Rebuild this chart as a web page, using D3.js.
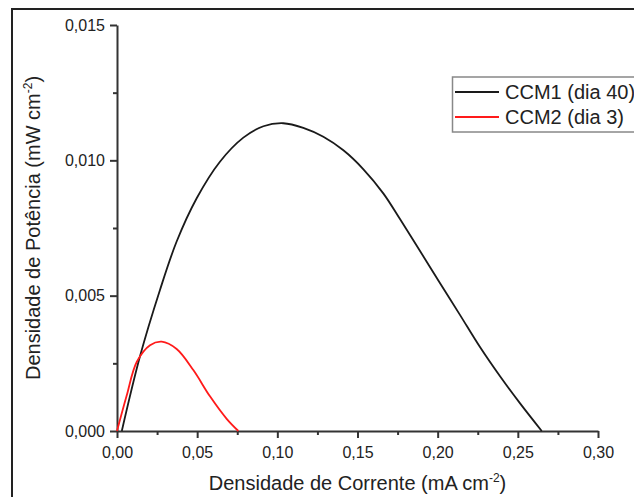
<!DOCTYPE html>
<html>
<head>
<meta charset="utf-8">
<script src="https://cdn.jsdelivr.net/npm/d3@7"></script>
<style>
  body { margin: 0; background: #fff; }
  text { font-family: "Liberation Sans", Arial, sans-serif; fill: #222; }
  .axis path, .axis line { stroke: #333; stroke-width: 2; }
</style>
</head>
<body>
<div id="plot"></div>
<script>
// CCM1 (dia 40): current density (mA cm-2) vs power density (mW cm-2)
var ccm1X = [0.0030, 0.0143, 0.0268, 0.0372, 0.0497, 0.0642, 0.0788, 0.0913, 0.1037, 0.1162, 0.1287,
             0.1412, 0.1537, 0.1662, 0.1765, 0.1890, 0.2015, 0.2139, 0.2264, 0.2389, 0.2514, 0.2649];
var ccm1Y = [0.0000, 0.00275, 0.00521, 0.00700, 0.00860, 0.00995, 0.01084, 0.01126, 0.01137, 0.01120, 0.01087,
             0.01037, 0.00967, 0.00877, 0.00783, 0.00665, 0.00546, 0.00429, 0.00310, 0.00202, 0.00102, 0.0000];

// CCM2 (dia 3)
var ccm2X = [0.0000, 0.0060, 0.0123, 0.0206, 0.0279, 0.0372, 0.0476, 0.0580, 0.0684, 0.0757];
var ccm2Y = [0.0000, 0.00130, 0.00255, 0.00317, 0.00330, 0.00303, 0.00225, 0.00128, 0.00045, 0.0000];

var seriesNames = ["CCM1 (dia 40)", "CCM2 (dia 3)"];
var seriesColors = ["#1a1a1a", "#ff1a1a"];

var xMajor = [0, 0.05, 0.10, 0.15, 0.20, 0.25, 0.30];
var xMinor = [0.025, 0.075, 0.125, 0.175, 0.225, 0.275];
var yMajor = [0, 0.005, 0.010, 0.015];
var yMinor = [0.0025, 0.0075, 0.0125];

var W = 634, H = 497;
var plot = { left: 117, right: 598, top: 25, bottom: 431 };

var svg = d3.select("#plot").append("svg")
    .attr("width", W)
    .attr("height", H);

// outer frame (only top and left visible in the crop)
svg.append("path")
    .attr("d", "M12," + H + "V9H" + W)
    .attr("fill", "none")
    .attr("stroke", "#222")
    .attr("stroke-width", 2);

var x = d3.scaleLinear().domain([0, 0.30]).range([plot.left, plot.right]);
var y = d3.scaleLinear().domain([0, 0.015]).range([plot.bottom, plot.top]);

var br = d3.formatLocale({ decimal: ",", thousands: ".", grouping: [3], currency: ["", ""] });

// minor ticks
svg.append("g").attr("class", "axis")
    .attr("transform", "translate(0," + plot.bottom + ")")
    .call(d3.axisBottom(x).tickValues(xMinor).tickSize(4).tickFormat(""))
    .select(".domain").remove();
svg.append("g").attr("class", "axis")
    .attr("transform", "translate(" + plot.left + ",0)")
    .call(d3.axisLeft(y).tickValues(yMinor).tickSize(4).tickFormat(""))
    .select(".domain").remove();

// major axes
svg.append("g").attr("class", "axis")
    .attr("transform", "translate(0," + plot.bottom + ")")
    .call(d3.axisBottom(x).tickValues(xMajor).tickSize(7).tickSizeOuter(0).tickPadding(9)
        .tickFormat(br.format(".2f")));
svg.append("g").attr("class", "axis")
    .attr("transform", "translate(" + plot.left + ",0)")
    .call(d3.axisLeft(y).tickValues(yMajor).tickSize(7).tickSizeOuter(0).tickPadding(5)
        .tickFormat(br.format(".3f")));
svg.selectAll(".axis text")
    .style("font-family", "'Liberation Sans', Arial, sans-serif")
    .style("font-size", "16px")
    .attr("fill", "#222");

// curves
var line = d3.line()
    .x(function(d) { return x(d[0]); })
    .y(function(d) { return y(d[1]); })
    .curve(d3.curveCatmullRom.alpha(0.5));

var ccm1 = d3.zip(ccm1X, ccm1Y);
var ccm2 = d3.zip(ccm2X, ccm2Y);

svg.append("path").datum(ccm1)
    .attr("d", line)
    .attr("fill", "none")
    .attr("stroke", seriesColors[0])
    .attr("stroke-width", 1.8);
svg.append("path").datum(ccm2)
    .attr("d", line)
    .attr("fill", "none")
    .attr("stroke", seriesColors[1])
    .attr("stroke-width", 1.8);

// axis titles
var xt = svg.append("text")
    .attr("x", (plot.left + plot.right) / 2)
    .attr("y", 490)
    .attr("text-anchor", "middle")
    .style("font-size", "20px");
xt.append("tspan").text("Densidade de Corrente (mA cm");
xt.append("tspan").attr("dy", -8).style("font-size", "12px").text("-2");
xt.append("tspan").attr("dy", 8).text(")");

var yt = svg.append("text")
    .attr("transform", "translate(40," + (plot.top + plot.bottom) / 2 + ") rotate(-90)")
    .attr("text-anchor", "middle")
    .style("font-size", "20px");
yt.append("tspan").text("Densidade de Potência (mW cm");
yt.append("tspan").attr("dy", -8).style("font-size", "12px").text("-2");
yt.append("tspan").attr("dy", 8).text(")");

// legend
var legend = svg.append("g");
legend.append("rect")
    .attr("x", 452.5)
    .attr("y", 77)
    .attr("width", 200)
    .attr("height", 55)
    .attr("fill", "#fff")
    .attr("stroke", "#888")
    .attr("stroke-width", 1.5);
seriesNames.forEach(function(name, i) {
    var ly = 92 + i * 25;
    legend.append("line")
        .attr("x1", 455).attr("x2", 499)
        .attr("y1", ly).attr("y2", ly)
        .attr("stroke", seriesColors[i])
        .attr("stroke-width", 1.8);
    legend.append("text")
        .attr("x", 505)
        .attr("y", ly + 7)
        .style("font-size", "20px")
        .text(name);
});
</script>
</body>
</html>
